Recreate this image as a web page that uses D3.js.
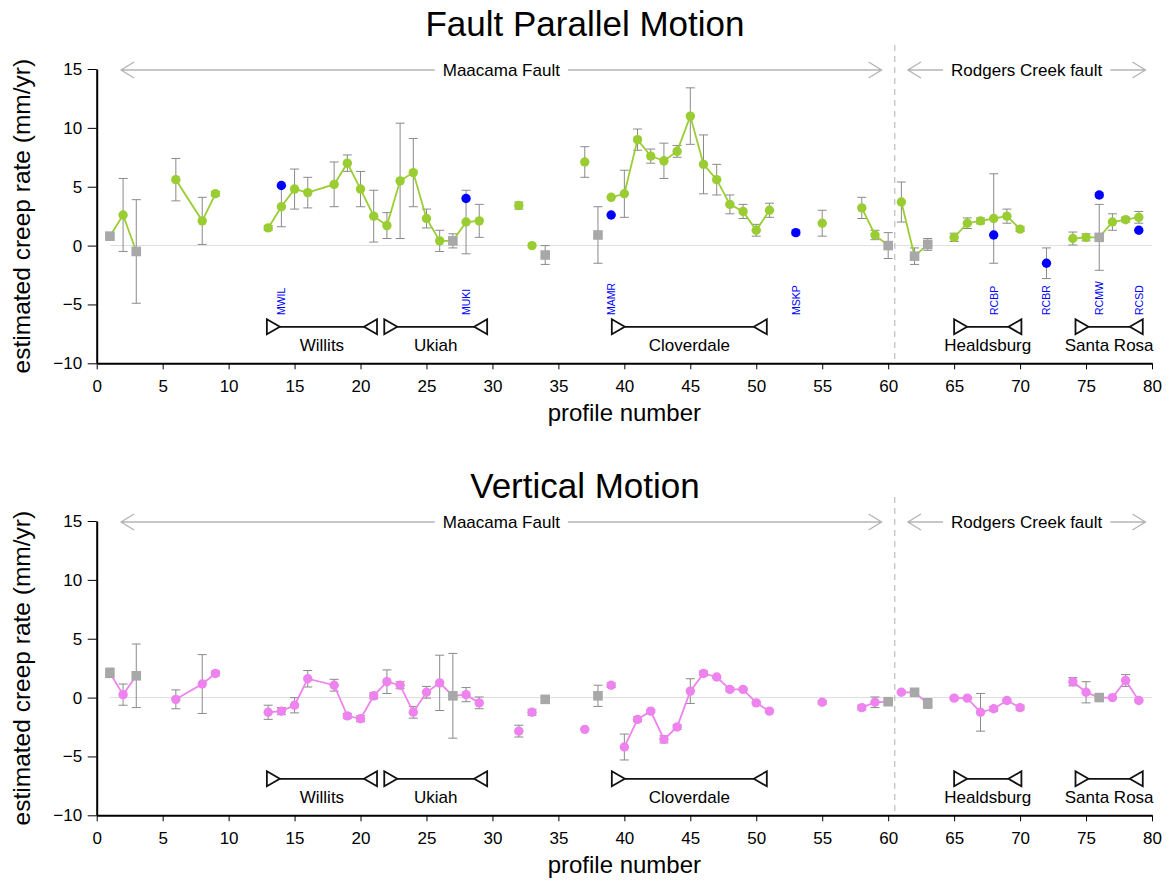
<!DOCTYPE html>
<html>
<head>
<meta charset="utf-8">
<script src="https://cdn.jsdelivr.net/npm/d3@7"></script>
<style>
  body { margin: 0; background: #fff; }
  text { font-family: "Liberation Sans", Arial, Helvetica, sans-serif; }
</style>
</head>
<body>
<svg id="chart" width="1171" height="882"></svg>
<script>
// ---- data ----
const profiles = [1,2,3,6,8,9,13,14,15,16,18,19,20,21,22,23,24,25,26,27,28,29,32,33,34,37,38,39,40,41,42,43,44,45,46,47,48,49,50,51,55,58,59,60,61,62,63,65,66,67,68,69,70,74,75,76,77,78,79];
// profiles plotted as grey squares
const squareProfiles = [1,3,27,34,38,60,62,63,76];

// fault-parallel creep rate (mm/yr) and 1-sigma error
const parallelRate = [0.8,2.6,-0.5,5.6,2.1,4.4,1.5,3.3,4.8,4.5,5.2,7.0,4.8,2.5,1.7,5.5,6.2,2.3,0.4,0.4,2.0,2.1,3.4,0.0,-0.8,7.1,0.9,4.1,4.4,9.0,7.6,7.2,8.0,11.0,6.9,5.6,3.5,2.9,1.3,3.0,1.9,3.2,0.9,0.0,3.7,-0.9,0.1,0.7,1.9,2.1,2.3,2.5,1.4,0.6,0.7,0.7,2.0,2.2,2.4];
const parallelErr  = [0.2,3.1,4.4,1.8,2.0,0.2,0.2,1.7,1.7,1.3,1.9,0.7,1.5,2.2,1.1,4.9,2.9,0.8,0.9,0.6,2.7,1.4,0.3,0,0.8,1.3,2.4,0,2.0,0.9,0.6,1.5,0.5,2.4,2.5,1.3,0.8,0.6,0.5,0.6,1.1,0.9,0.4,1.1,1.7,0.7,0.5,0.35,0.45,0.25,3.8,0.6,0.2,0.55,0.3,2.8,0.7,0.2,0.5];
const parallelRuns = [[1,3],[6,9],[13,29],[39,51],[58,60],[61,63],[65,70],[74,79]];

// vertical creep rate (mm/yr) and 1-sigma error
const verticalRate = [2.1,0.25,1.85,-0.15,1.15,2.05,-1.25,-1.15,-0.65,1.6,1.05,-1.55,-1.8,0.15,1.35,1.05,-1.25,0.45,1.25,0.15,0.25,-0.45,-2.85,-1.25,-0.15,-2.7,0.15,1.05,-4.2,-1.85,-1.15,-3.55,-2.5,0.55,2.05,1.75,0.7,0.7,-0.45,-1.15,-0.4,-0.85,-0.4,-0.35,0.45,0.45,-0.5,-0.05,-0.05,-1.25,-0.95,-0.25,-0.85,1.35,0.45,0.0,0.0,1.45,-0.25];
const verticalErr  = [0.4,0.9,2.7,0.8,2.5,0.2,0.6,0.3,0.65,0.7,0.5,0.2,0.25,0.25,1.0,0.3,0.5,0.5,2.35,3.6,0.6,0.5,0.5,0.25,0.2,0,0.9,0.2,1.1,0.2,0.1,0.3,0.2,1.05,0.2,0.1,0.15,0.1,0.1,0.1,0.15,0.2,0.45,0.25,0.1,0.2,0.4,0.1,0.1,1.6,0.2,0.1,0.2,0.35,0.9,0.2,0.1,0.5,0.1];
const verticalRuns = [[1,3],[6,9],[13,29],[40,51],[58,60],[61,63],[65,70],[74,79]];

// creepmeter stations (fault-parallel only)
const stationNames   = ["MWIL","MUKI","MAMR","MSKP","RCBP","RCBR","RCMW","RCSD"];
const stationProfile = [14,28,39,53,68,72,76,79];
const stationRate    = [5.1,4.0,2.6,1.1,0.9,-1.5,4.3,1.3];
const stationErr     = [0,0,0,0.2,0,1.3,0.2,0];

// towns along the faults: [start profile, end profile]
const townNames = ["Willits","Ukiah","Cloverdale","Healdsburg","Santa Rosa"];
const townSpans = [[12.9,21.25],[21.8,29.6],[39.05,50.8],[65.0,70.1],[74.2,79.3]];

// fault extents
const faultNames = ["Maacama Fault","Rodgers Creek fault"];
const faultSpans = [[1.85,59.5],[61.5,79.5]];
const faultBoundary = 60.5;

const xTicks = d3.range(0, 81, 5);
const xMinor = d3.range(0, 81, 1);
const yTicks = d3.range(-10, 16, 5);
const yMinor = d3.range(-10, 15.01, 2.5);

// ---- drawing ----
const svg = d3.select("#chart");
svg.append("rect").attr("width", 1171).attr("height", 882).attr("fill", "#fff");

const x = d3.scaleLinear().domain([0, 80]).range([96.7, 1152]);
const y = d3.scaleLinear().domain([-10, 15]).range([363.3, 69]);

const GREY_SQ = "#a8a8a8", ERR = "#8a8a8a", ARROW = "#b5b5b5";

function drawPanel(cfg) {
  const g = svg.append("g").attr("transform", `translate(0,${cfg.dy})`);

  g.append("text").attr("x", 585).attr("y", cfg.titleY).attr("text-anchor", "middle")
    .attr("font-size", 35).attr("fill", "#000").text(cfg.title);

  // zero reference
  g.append("line").attr("x1", x(1)).attr("x2", x(80)).attr("y1", y(0)).attr("y2", y(0))
    .attr("stroke", "#dedede").attr("stroke-width", 1);

  // Maacama / Rodgers Creek boundary
  g.append("line").attr("x1", x(faultBoundary)).attr("x2", x(faultBoundary))
    .attr("y1", 45).attr("y2", y(-10))
    .attr("stroke", "#bdbdbd").attr("stroke-width", 1.2).attr("stroke-dasharray", "6,5");

  // fault extent arrows with labels
  const ay = y(15) + 1;
  faultNames.forEach((name, i) => {
    const [a, b] = faultSpans[i];
    const xa = x(a), xb = x(b), xm = (xa + xb) / 2;
    const t = g.append("text").attr("x", xm).attr("y", ay + 6).attr("text-anchor", "middle")
      .attr("font-size", 17).attr("fill", "#000").text(name);
    const w = t.node().getComputedTextLength();
    const gap = w / 2 + 8;
    g.append("path").attr("fill", "none").attr("stroke", ARROW).attr("stroke-width", 1.4)
      .attr("d", `M${xa},${ay}H${xm - gap}M${xm + gap},${ay}H${xb}` +
                 `M${xa + 13},${ay - 8}L${xa},${ay}L${xa + 13},${ay + 8}` +
                 `M${xb - 13},${ay - 8}L${xb},${ay}L${xb - 13},${ay + 8}`);
  });

  // town brackets
  const by = y(-6.9);
  townNames.forEach((name, i) => {
    const [a, b] = townSpans[i];
    const xa = x(a), xb = x(b);
    g.append("line").attr("x1", xa + 13).attr("x2", xb - 13).attr("y1", by).attr("y2", by)
      .attr("stroke", "#111").attr("stroke-width", 1.8);
    g.append("path").attr("fill", "#fff").attr("stroke", "#111").attr("stroke-width", 1.8)
      .attr("d", `M${xa},${by - 7.5}L${xa + 13},${by}L${xa},${by + 7.5}Z`);
    g.append("path").attr("fill", "#fff").attr("stroke", "#111").attr("stroke-width", 1.8)
      .attr("d", `M${xb},${by - 7.5}L${xb - 13},${by}L${xb},${by + 7.5}Z`);
    g.append("text").attr("x", (xa + xb) / 2).attr("y", by + 24).attr("text-anchor", "middle")
      .attr("font-size", 17).attr("fill", "#000").text(name);
  });

  // axes: minor ticks first, then majors with labels
  const xa = g.append("g").attr("transform", `translate(0,${y(-10)})`);
  xa.call(d3.axisBottom(x).tickValues(xMinor).tickSize(3).tickSizeOuter(0).tickFormat(""));
  xa.call(d3.axisBottom(x).tickValues(xTicks).tickSize(6).tickSizeOuter(0).tickPadding(10.5));
  const ya = g.append("g").attr("transform", `translate(${x(0)},0)`);
  ya.call(d3.axisLeft(y).tickValues(yMinor).tickSize(4).tickSizeOuter(0).tickFormat(""));
  ya.call(d3.axisLeft(y).tickValues(yTicks).tickSize(9).tickSizeOuter(0).tickPadding(5.5)
    .tickFormat(d => d < 0 ? "\u2212" + Math.abs(d) : d));
  [xa, ya].forEach(a => {
    a.selectAll(".domain").attr("stroke", "#000").attr("stroke-width", 2);
    a.selectAll(".tick line").attr("stroke", "#000").attr("stroke-width", 1);
    a.selectAll(".tick text").attr("font-size", 17).attr("fill", "#000")
      .attr("font-family", '"Liberation Sans", Arial, Helvetica, sans-serif');
  });

  g.append("text").attr("x", (x(0) + x(80)) / 2).attr("y", 421).attr("text-anchor", "middle")
    .attr("font-size", 24).attr("fill", "#000").text("profile number");
  g.append("text").attr("transform", `translate(30,${(y(15) + y(-10)) / 2}) rotate(-90)`)
    .attr("text-anchor", "middle").attr("font-size", 24.5).attr("fill", "#000")
    .text("estimated creep rate (mm/yr)");

  // points
  const pts = profiles.map((p, i) => ({
    p, v: cfg.rate[i], e: cfg.err[i], sq: squareProfiles.includes(p)
  }));
  const stn = cfg.stations ? stationNames.map((n, i) => ({
    n, p: stationProfile[i], v: stationRate[i], e: stationErr[i]
  })) : [];

  // station labels
  stn.forEach(s => {
    g.append("text").attr("transform", `translate(${x(s.p) + 4},${y(-5.9)}) rotate(-90)`)
      .attr("font-size", 10.5).attr("fill", "#0000ff").text(s.n);
  });

  // error bars
  const eb = g.append("g").attr("stroke", ERR).attr("stroke-width", 1).attr("fill", "none");
  pts.concat(stn).filter(d => d.e > 0).forEach(d => {
    const cx = x(d.p), y1 = y(d.v + d.e), y2 = y(d.v - d.e);
    eb.append("path").attr("d", `M${cx},${y1}V${y2}M${cx - 4.5},${y1}H${cx + 4.5}M${cx - 4.5},${y2}H${cx + 4.5}`);
  });

  // connecting lines
  const line = d3.line().x(d => x(d.p)).y(d => y(d.v));
  cfg.runs.forEach(([a, b]) => {
    const seg = pts.filter(d => d.p >= a && d.p <= b);
    g.append("path").datum(seg).attr("d", line).attr("fill", "none")
      .attr("stroke", cfg.color).attr("stroke-width", 1.8);
  });

  // markers
  pts.filter(d => d.sq).forEach(d => {
    g.append("rect").attr("x", x(d.p) - 4.8).attr("y", y(d.v) - 4.8)
      .attr("width", 9.6).attr("height", 9.6).attr("fill", GREY_SQ);
  });
  pts.filter(d => !d.sq).forEach(d => {
    g.append("circle").attr("cx", x(d.p)).attr("cy", y(d.v)).attr("r", 4.7).attr("fill", cfg.color);
  });
  stn.forEach(d => {
    g.append("circle").attr("cx", x(d.p)).attr("cy", y(d.v)).attr("r", 4.7).attr("fill", "#0000ff");
  });
}

drawPanel({ dy: 0, titleY: 36, title: "Fault Parallel Motion", rate: parallelRate, err: parallelErr,
            runs: parallelRuns, color: "#9acd32", stations: true });
drawPanel({ dy: 452, titleY: 46, title: "Vertical Motion", rate: verticalRate, err: verticalErr,
            runs: verticalRuns, color: "#ee82ee", stations: false });
</script>
</body>
</html>
